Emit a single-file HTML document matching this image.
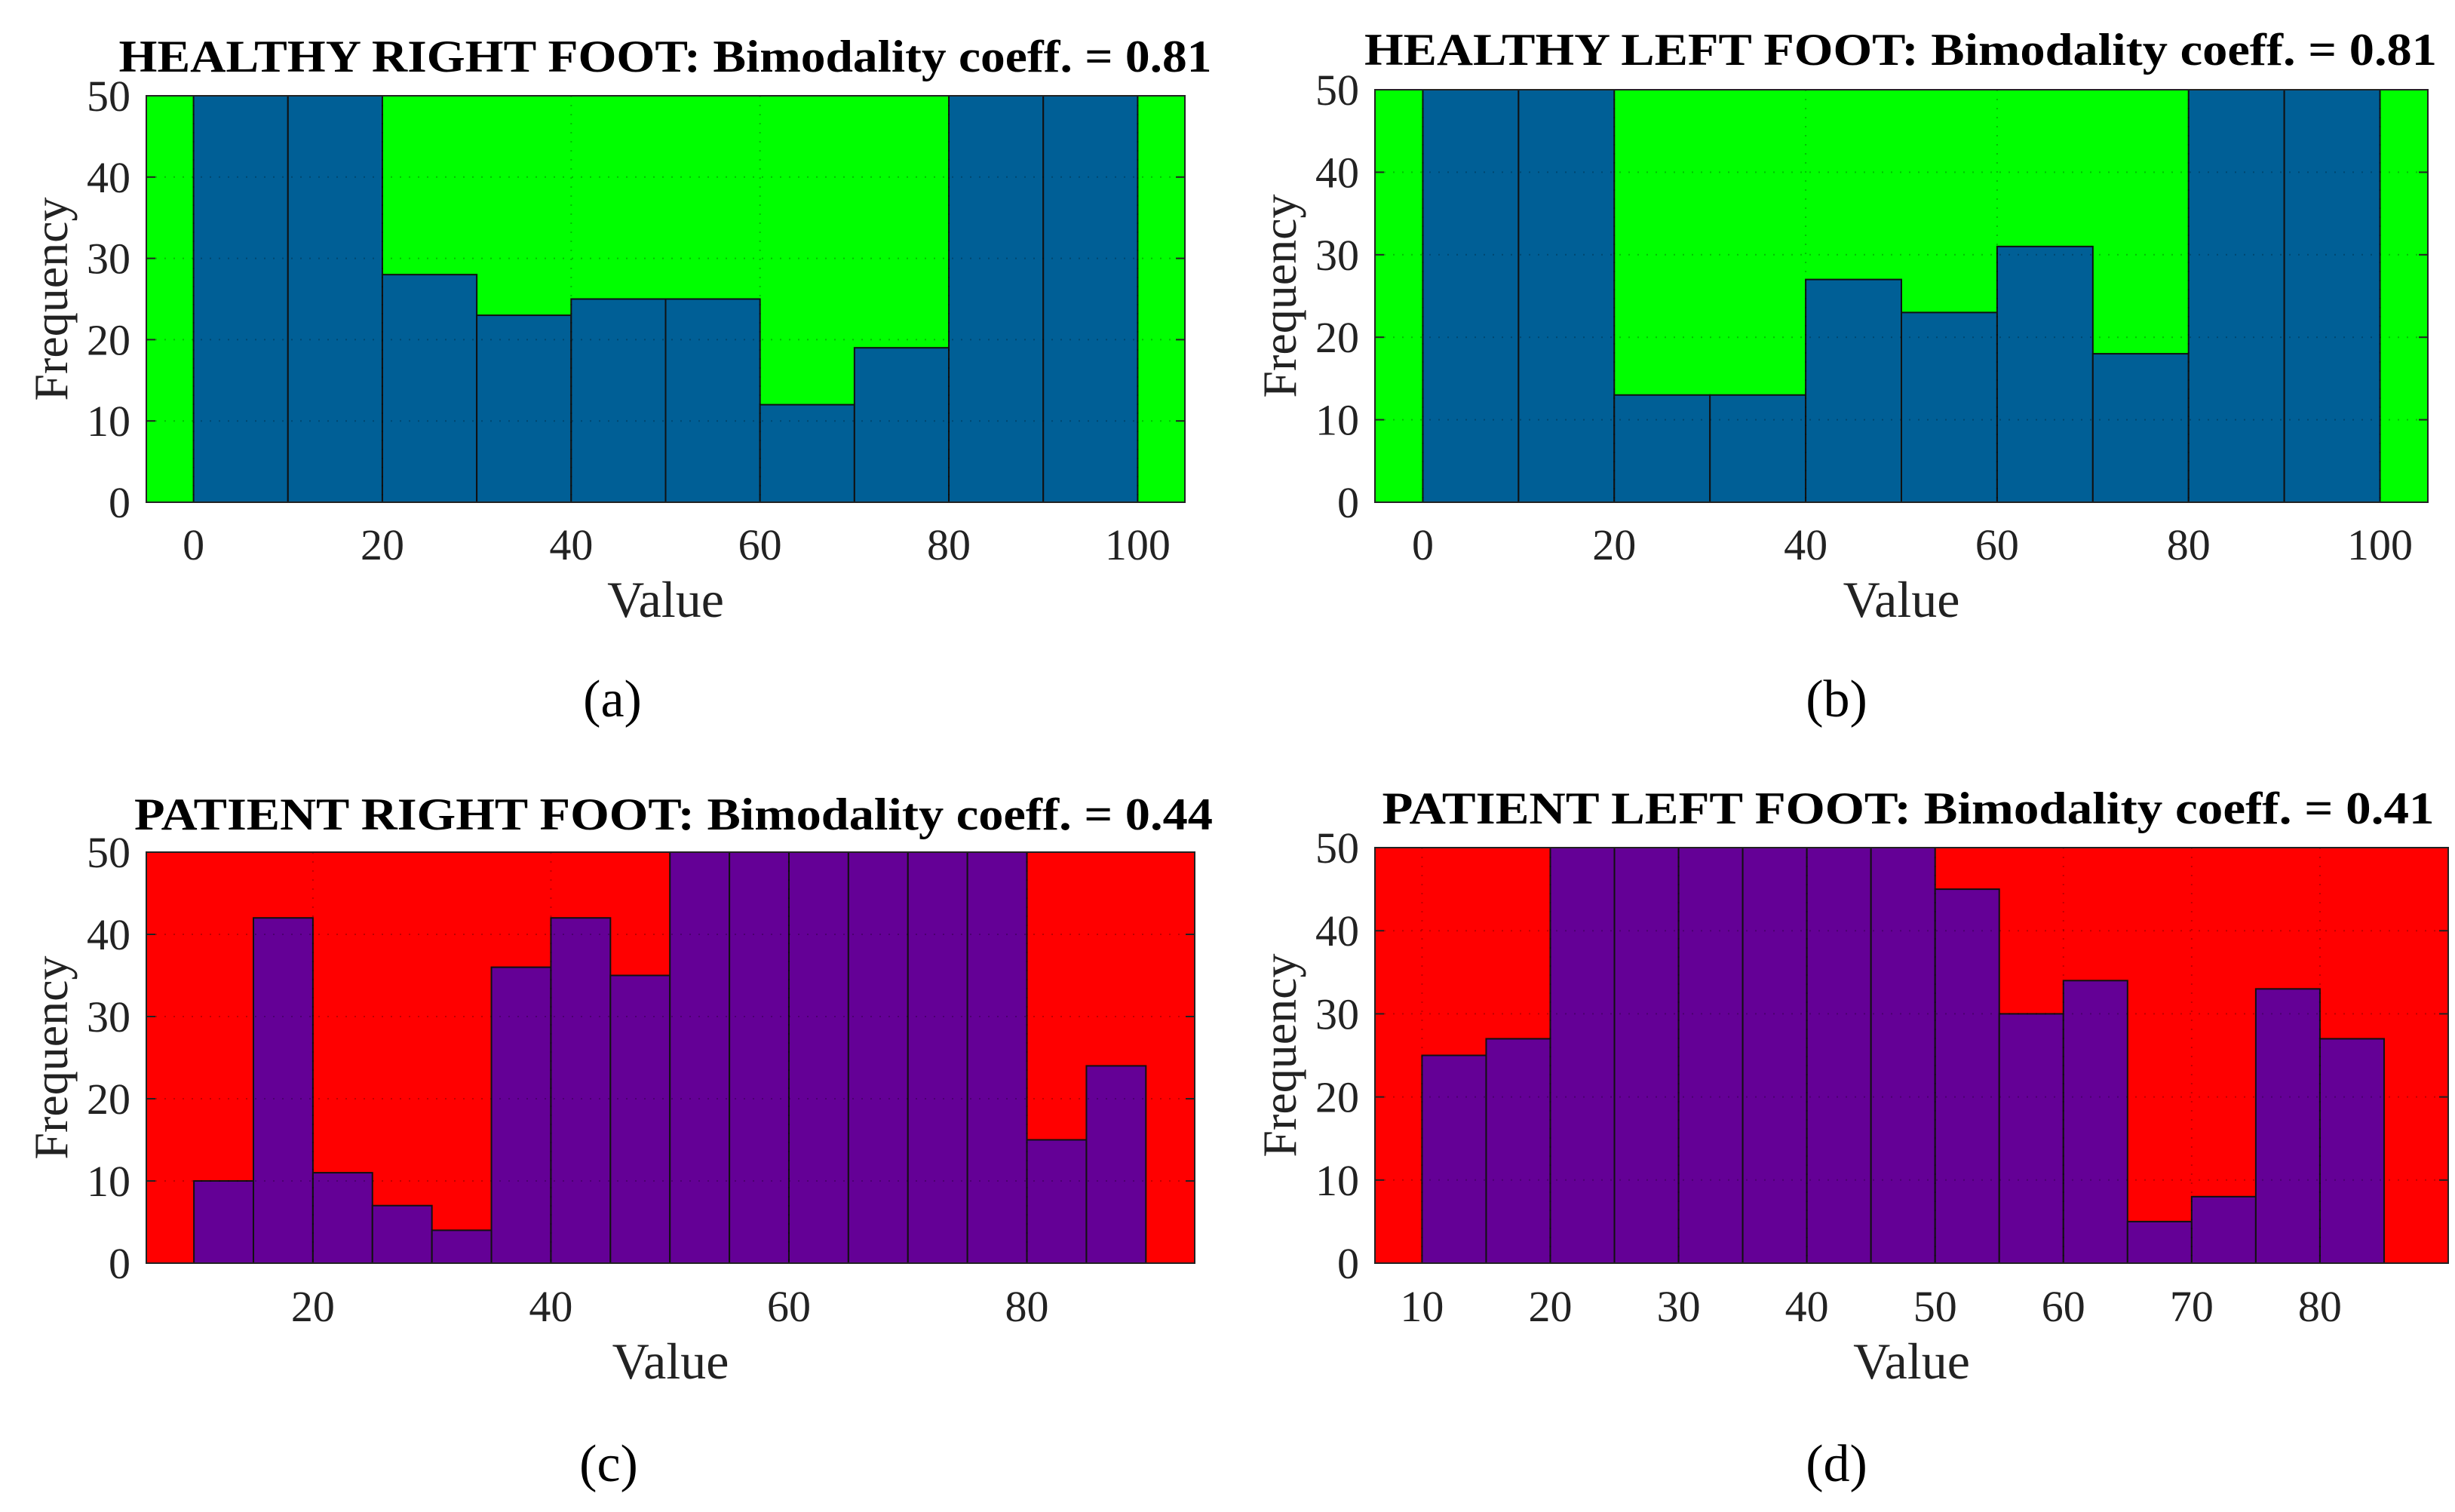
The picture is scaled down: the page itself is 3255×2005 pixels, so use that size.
<!DOCTYPE html>
<html><head><meta charset="utf-8"><style>
html,body{margin:0;padding:0;background:#fff;}
svg{display:block;font-family:"Liberation Serif",serif;}
</style></head><body>
<svg id="fig" width="3255" height="2005" viewBox="0 0 3255 2005" xmlns="http://www.w3.org/2000/svg"></svg>
<script>
// Panel data
const aEdges = [0,10,20,30,40,50,60,70,80,90,100];
const aCounts = [50,50,28,23,25,25,12,19,50,50];
const aTicks = [0,20,40,60,80,100];
const bEdges = [0,10,20,30,40,50,60,70,80,90,100];
const bCounts = [50,50,13,13,27,23,31,18,50,50];
const bTicks = [0,20,40,60,80,100];
const cEdges = [10,15,20,25,30,35,40,45,50,55,60,65,70,75,80,85,90];
const cCounts = [10,42,11,7,4,36,42,35,50,50,50,50,50,50,15,24];
const cTicks = [20,40,60,80];
const dEdges = [10,15,20,25,30,35,40,45,50,55,60,65,70,75,80,85];
const dCounts = [25,27,50,50,50,50,50,50,45,30,34,5,8,33,27];
const dTicks = [10,20,30,40,50,60,70,80];
const yTicks = [0,10,20,30,40,50];

const NS="http://www.w3.org/2000/svg";
const svg=document.getElementById('fig');
function mk(tag,attrs,parent){const e=document.createElementNS(NS,tag);for(const k in attrs)e.setAttribute(k,attrs[k]);(parent||svg).appendChild(e);return e;}

const panels=[
 {id:'a',title:'HEALTHY RIGHT FOOT: Bimodality coeff. = 0.81',edges:aEdges,counts:aCounts,ticks:aTicks,x0:194,x1:1571,y0:127,y1:666,xmin:-5,xmax:105,bg:'#00ff00',bar:'#005f96',tx:882,ty:95,tw:1449,ylx:69,ytx:173,tky:742,vly:818,lab:'(a)',labx:812,laby:950},
 {id:'b',title:'HEALTHY LEFT FOOT: Bimodality coeff. = 0.81',edges:bEdges,counts:bCounts,ticks:bTicks,x0:1823,x1:3219,y0:119,y1:666,xmin:-5,xmax:105,bg:'#00ff00',bar:'#005f96',tx:2520,ty:86,tw:1422,ylx:1698,ytx:1802,tky:742,vly:818,lab:'(b)',labx:2435,laby:950},
 {id:'c',title:'PATIENT RIGHT FOOT: Bimodality coeff. = 0.44',edges:cEdges,counts:cCounts,ticks:cTicks,x0:194,x1:1584,y0:1130,y1:1675,xmin:6,xmax:94.1,bg:'#ff0000',bar:'#640096',tx:893,ty:1100,tw:1430,ylx:69,ytx:173,tky:1752,vly:1828,lab:'(c)',labx:807,laby:1964},
 {id:'d',title:'PATIENT LEFT FOOT: Bimodality coeff. = 0.41',edges:dEdges,counts:dCounts,ticks:dTicks,x0:1823,x1:3246,y0:1124,y1:1675,xmin:6.33,xmax:90,bg:'#ff0000',bar:'#640096',tx:2530,ty:1092,tw:1395,ylx:1698,ytx:1802,tky:1752,vly:1828,lab:'(d)',labx:2435,laby:1964}
];

panels.forEach(p=>{
  const g=mk('g',{});
  
  
  const sx=v=>p.x0+(v-p.xmin)/(p.xmax-p.xmin)*(p.x1-p.x0);
  const sy=v=>p.y1-v/50*(p.y1-p.y0);
  const bg=mk('rect',{x:p.x0,y:p.y0,width:p.x1-p.x0,height:p.y1-p.y0,fill:p.bg},g);
  
  
  p.counts.forEach((c,i)=>{
    const v=Math.min(c,50);
    const r=mk('rect',{x:sx(p.edges[i]),y:sy(v),width:sx(p.edges[i+1])-sx(p.edges[i]),height:sy(0)-sy(v),fill:p.bar,stroke:'#111','stroke-width':2},g);
    
    
  });
  p.ticks.forEach(t=>{mk('line',{x1:sx(t),x2:sx(t),y1:p.y0,y2:p.y1,stroke:'#000','stroke-opacity':0.25,'stroke-width':2,'stroke-dasharray':'2 10'},g);});
  yTicks.forEach(t=>{mk('line',{x1:p.x0,x2:p.x1,y1:sy(t),y2:sy(t),stroke:'#000','stroke-opacity':0.25,'stroke-width':2,'stroke-dasharray':'2 10'},g);});
  mk('rect',{x:p.x0,y:p.y0,width:p.x1-p.x0,height:p.y1-p.y0,fill:'none',stroke:'#222','stroke-width':2},g);
  yTicks.forEach(t=>{
    mk('line',{x1:p.x0,x2:p.x0+12,y1:sy(t),y2:sy(t),stroke:'#222','stroke-width':2},g);
    mk('line',{x1:p.x1,x2:p.x1-12,y1:sy(t),y2:sy(t),stroke:'#222','stroke-width':2},g);
    const tx=mk('text',{x:p.ytx,y:sy(t)+20,'text-anchor':'end','font-size':58,fill:'#222'},g);
    tx.textContent=t;
    
    
  });
  p.ticks.forEach(t=>{
    const tx=mk('text',{x:sx(t),y:p.tky,'text-anchor':'middle','font-size':58,fill:'#222'},g);
    tx.textContent=t;
    
    
  });
  const ti=mk('text',{x:p.tx,y:p.ty,'text-anchor':'middle','font-size':60,'font-weight':'bold',fill:'#000',textLength:p.tw,lengthAdjust:'spacingAndGlyphs'},g);
  ti.textContent=p.title;
  
  
  const yl=mk('text',{x:0,y:0,'text-anchor':'middle','font-size':64,fill:'#222',transform:`translate(${p.ylx+20},${(p.y0+p.y1)/2}) rotate(-90)`},g);
  yl.textContent='Frequency';
  
  
  const xl=mk('text',{x:(p.x0+p.x1)/2,y:p.vly,'text-anchor':'middle','font-size':68,fill:'#222'},g);
  xl.textContent='Value';
  
  
  const lb=mk('text',{x:p.labx,y:p.laby,'text-anchor':'middle','font-size':70,fill:'#000'},g);
  lb.textContent=p.lab;
  
  
});
</script>
</body></html>
